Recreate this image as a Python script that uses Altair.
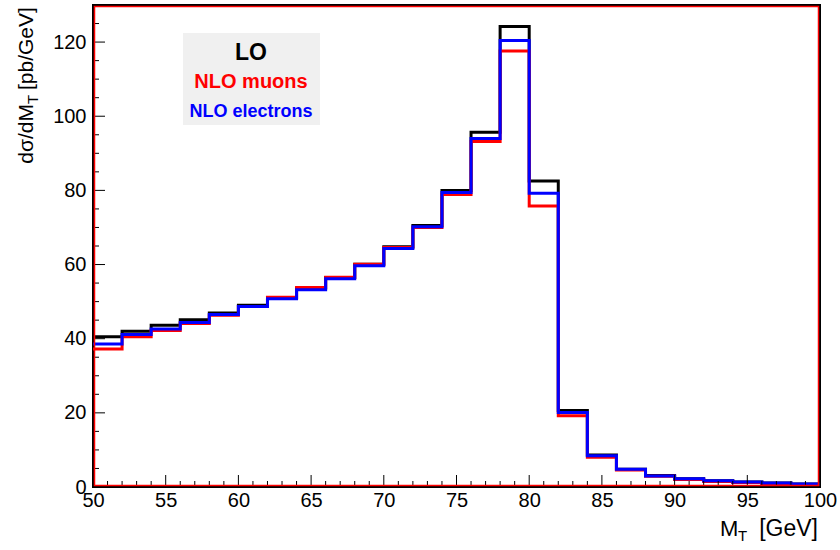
import altair as alt
import pandas as pd

# bin low edges (2 GeV bins) and upper end
bin_edges = [50, 52, 54, 56, 58, 60, 62, 64, 66, 68, 70, 72, 74, 76, 78,
             80, 82, 84, 86, 88, 90, 92, 94, 96, 98]
x_end = 100

lo = [40.5, 42.0, 43.6, 45.1, 46.9, 49.0, 51.1, 53.6, 56.5, 60.1, 64.8, 70.5,
      80.0, 95.7, 124.2, 82.5, 20.6, 8.6, 4.8, 3.1, 2.2, 1.7, 1.35, 1.1, 0.8]
nlo_muons = [37.2, 40.5, 42.2, 44.1, 46.3, 48.7, 51.2, 53.8, 56.6, 60.1, 64.6, 70.0,
             78.9, 93.2, 117.6, 75.8, 19.2, 8.0, 4.6, 2.9, 2.0, 1.5, 1.2, 0.95, 0.7]
nlo_electrons = [38.6, 41.1, 42.6, 44.4, 46.5, 48.7, 50.8, 53.2, 56.2, 59.7, 64.3, 70.2,
                 79.4, 94.0, 120.4, 79.2, 20.1, 8.4, 4.8, 3.0, 2.2, 1.7, 1.35, 1.1, 0.8]

series_names = ["LO", "NLO muons", "NLO electrons"]
series_colors = ["#000000", "#ff0000", "#0000ff"]

x_major = [50, 55, 60, 65, 70, 75, 80, 85, 90, 95, 100]
x_minor = [v for v in range(50, 101) if v % 5 != 0]
y_major = [0, 20, 40, 60, 80, 100, 120]
y_minor = [5, 10, 15, 25, 30, 35, 45, 50, 55, 65, 70, 75, 85, 90, 95, 105, 110, 115, 125]

FONT = "Liberation Sans"
W, H = 727, 482

xs = alt.Scale(domain=[50, 100], nice=False, zero=False)
ys = alt.Scale(domain=[0, 130], nice=False)

rows = []
for name, vals in zip(series_names, [lo, nlo_muons, nlo_electrons]):
    for e, v in zip(bin_edges + [x_end], vals + [vals[-1]]):
        rows.append({"series": name, "x": e, "y": v})
df = pd.DataFrame(rows)

layers = []
for name, col in zip(series_names, series_colors):
    layers.append(
        alt.Chart(df[df.series == name]).mark_line(
            interpolate="step-after", color=col, strokeWidth=3, clip=True
        ).encode(
            x=alt.X("x:Q", scale=xs, axis=alt.Axis(
                values=x_major, tickSize=0, domain=False, grid=False, title=None,
                labelFont=FONT, labelFontSize=20, labelColor="black",
                labelPadding=3, labelFlush=False, labelOverlap=False, format="d")),
            y=alt.Y("y:Q", scale=ys, axis=alt.Axis(
                values=y_major, tickSize=0, domain=False, grid=False, title=None,
                labelFont=FONT, labelFontSize=20, labelColor="black",
                labelPadding=7, labelFlush=False, labelOverlap=False, format="d")),
        )
    )

# inward tick marks
def xticks(vals, length):
    return alt.Chart(pd.DataFrame({"v": vals})).mark_rule(color="black", strokeWidth=1).encode(
        x=alt.X("v:Q", scale=xs), y=alt.value(H), y2=alt.value(H - length))

def yticks(vals, length):
    return alt.Chart(pd.DataFrame({"v": vals})).mark_rule(color="black", strokeWidth=1).encode(
        y=alt.Y("v:Q", scale=ys), x=alt.value(0), x2=alt.value(length))

ticks = [xticks(x_major, 12), xticks(x_minor, 6), yticks(y_major, 12), yticks(y_minor, 6)]

# frame inner red line
frame = alt.Chart(pd.DataFrame({"a": [0]})).mark_rect(
    fill=None, stroke="#ff0000", strokeWidth=1.5
).encode(x=alt.value(1.5), x2=alt.value(W - 1.5), y=alt.value(1.5), y2=alt.value(H - 1.5))

# legend box
one = pd.DataFrame({"a": [0]})
leg_box = alt.Chart(one).mark_rect(color="#f0f0f0").encode(
    x=alt.value(90), x2=alt.value(227), y=alt.value(28), y2=alt.value(120))
leg_texts = []
for name, col, fs, yy in zip(series_names, series_colors, [23, 20, 18], [55, 83, 112]):
    leg_texts.append(alt.Chart(one).mark_text(
        text=name, font=FONT, fontWeight="bold", fontSize=fs, color=col,
        align="center", baseline="alphabetic"
    ).encode(x=alt.value(158), y=alt.value(yy)))

# y title with subscript
YT_X = -60
YT_P = 99
yt1 = alt.Chart(one).mark_text(text="dσ/dM", font=FONT, fontSize=21, angle=270,
                                align="right", baseline="alphabetic", color="black").encode(
    x=alt.value(YT_X), y=alt.value(YT_P))
yt2 = alt.Chart(one).mark_text(text="T", font=FONT, fontSize=15, angle=270,
                                align="left", baseline="alphabetic", color="black").encode(
    x=alt.value(YT_X + 5), y=alt.value(YT_P))
yt3 = alt.Chart(one).mark_text(text="[pb/GeV]", font=FONT, fontSize=21, angle=270,
                                align="left", baseline="alphabetic", color="black").encode(
    x=alt.value(YT_X), y=alt.value(YT_P - 14))

# x title with subscript
xt1 = alt.Chart(one).mark_text(text="M", font=FONT, fontSize=22, align="left",
                                baseline="alphabetic", color="black").encode(
    x=alt.value(627), y=alt.value(531))
xt2 = alt.Chart(one).mark_text(text="T", font=FONT, fontSize=15, align="left",
                                baseline="alphabetic", color="black").encode(
    x=alt.value(645), y=alt.value(536))
xt3 = alt.Chart(one).mark_text(text="[GeV]", font=FONT, fontSize=23, align="right",
                                baseline="alphabetic", color="black").encode(
    x=alt.value(725), y=alt.value(531))

chart = alt.layer(
    leg_box, *leg_texts, *layers, *ticks, frame, yt1, yt2, yt3, xt1, xt2, xt3
).properties(
    width=W, height=H,
    autosize=alt.AutoSizeParams(type="none"),
    padding={"left": 93, "top": 5, "right": 20, "bottom": 63},
    background="white",
).configure_view(stroke="black", strokeWidth=2)

chart.save("out.html", embed_options={"renderer": "svg", "actions": False})
